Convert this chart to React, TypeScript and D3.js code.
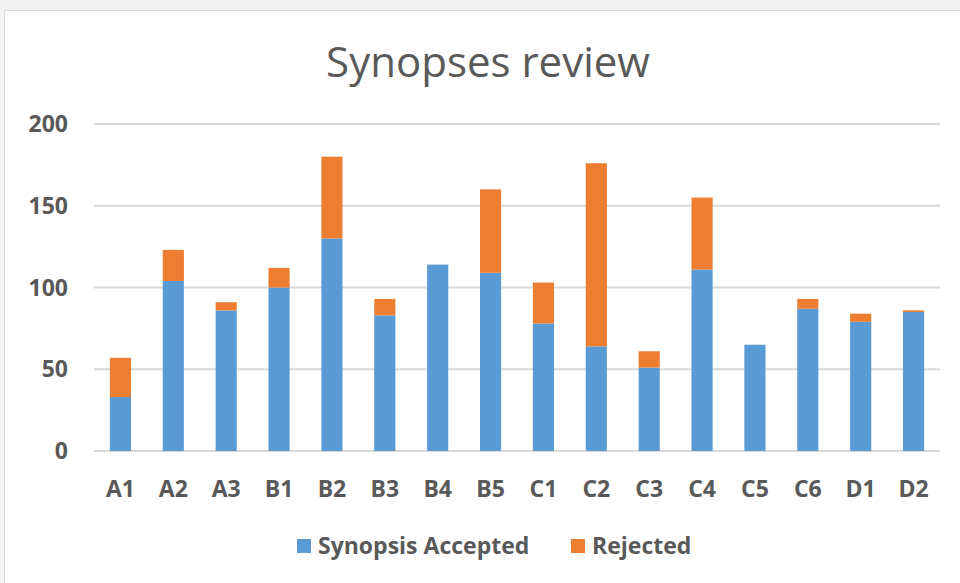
import React, { useEffect, useRef } from "react";
import * as d3 from "d3";

const categories = ["A1", "A2", "A3", "B1", "B2", "B3", "B4", "B5", "C1", "C2", "C3", "C4", "C5", "C6", "D1", "D2"];
const accepted = [33, 104, 86, 100, 130, 83, 114, 109, 78, 64, 51, 111, 65, 87, 79, 85];
const rejected = [24, 19, 5, 12, 50, 10, 0, 51, 25, 112, 10, 44, 0, 6, 5, 1];
const yTicks = [0, 50, 100, 150, 200];
const seriesNames = ["Synopsis Accepted", "Rejected"];
const colors = ["#5B9BD5", "#ED7D31"];

const W = 960;
const H = 583;

export default function App() {
  const ref = useRef<SVGSVGElement>(null);

  useEffect(() => {
    const svg = d3.select(ref.current);
    svg.selectAll("*").remove();

    // gray page background + white chart frame
    svg.append("rect").attr("width", W).attr("height", H).attr("fill", "#f2f2f2");
    svg.append("rect")
        .attr("x", 4.5).attr("y", 10.5)
        .attr("width", W).attr("height", H)
        .attr("fill", "#fff")
        .attr("stroke", "#d9d9d9");

    const font = "'Open Sans', sans-serif";

    svg.append("text")
        .attr("x", 488).attr("y", 77)
        .attr("text-anchor", "middle")
        .attr("font-family", font)
        .attr("font-size", 42)
        .attr("fill", "#595959")
        .text("Synopses review");

    const x = d3.scaleBand().domain(categories).range([94, 940]).paddingInner(0.6).paddingOuter(0.3);
    const y = d3.scaleLinear().domain([0, 200]).range([451, 124]);

    svg.append("g").selectAll("line")
        .data(yTicks)
        .join("line")
        .attr("x1", 94).attr("x2", 940)
        .attr("y1", (d) => y(d)).attr("y2", (d) => y(d))
        .attr("stroke", "#d9d9d9")
        .attr("stroke-width", 2);

    svg.append("g").selectAll("text")
        .data(yTicks)
        .join("text")
        .attr("x", 68).attr("y", (d) => y(d) + 8)
        .attr("text-anchor", "end")
        .attr("font-family", font)
        .attr("font-weight", "bold")
        .attr("font-size", 23)
        .attr("fill", "#595959")
        .text((d) => d);

    const rows = categories.map((c, i) => ({ cat: c, acc: accepted[i], rej: rejected[i] }));
    const stacked = d3.stack<any>().keys(["acc", "rej"])(rows);

    svg.append("g").selectAll("g")
        .data(stacked)
        .join("g")
        .attr("fill", (_d, i) => colors[i])
        .selectAll("rect")
        .data((d) => d)
        .join("rect")
        .attr("x", (d: any) => x(d.data.cat)!)
        .attr("width", x.bandwidth())
        .attr("y", (d) => y(d[1]))
        .attr("height", (d) => y(d[0]) - y(d[1]));

    svg.append("g").selectAll("text")
        .data(categories)
        .join("text")
        .attr("x", (d) => x(d)! + x.bandwidth() / 2)
        .attr("y", 497)
        .attr("text-anchor", "middle")
        .attr("font-family", font)
        .attr("font-weight", "bold")
        .attr("font-size", 23)
        .attr("fill", "#595959")
        .text((d) => d);

    const legendX = [297, 571];
    const legend = svg.append("g").selectAll("g")
        .data(seriesNames)
        .join("g")
        .attr("transform", (_d, i) => `translate(${legendX[i]},546)`);
    legend.append("rect")
        .attr("x", 0).attr("y", -7)
        .attr("width", 14).attr("height", 14)
        .attr("fill", (_d, i) => colors[i]);
    legend.append("text")
        .attr("x", 21).attr("y", 8)
        .attr("font-family", font)
        .attr("font-weight", "bold")
        .attr("font-size", 23)
        .attr("fill", "#595959")
        .text((d) => d);
  }, []);

  return (
    <svg
      ref={ref}
      width={W}
      height={H}
      style={{ position: "absolute", left: 0, top: 0 }}
    />
  );
}
